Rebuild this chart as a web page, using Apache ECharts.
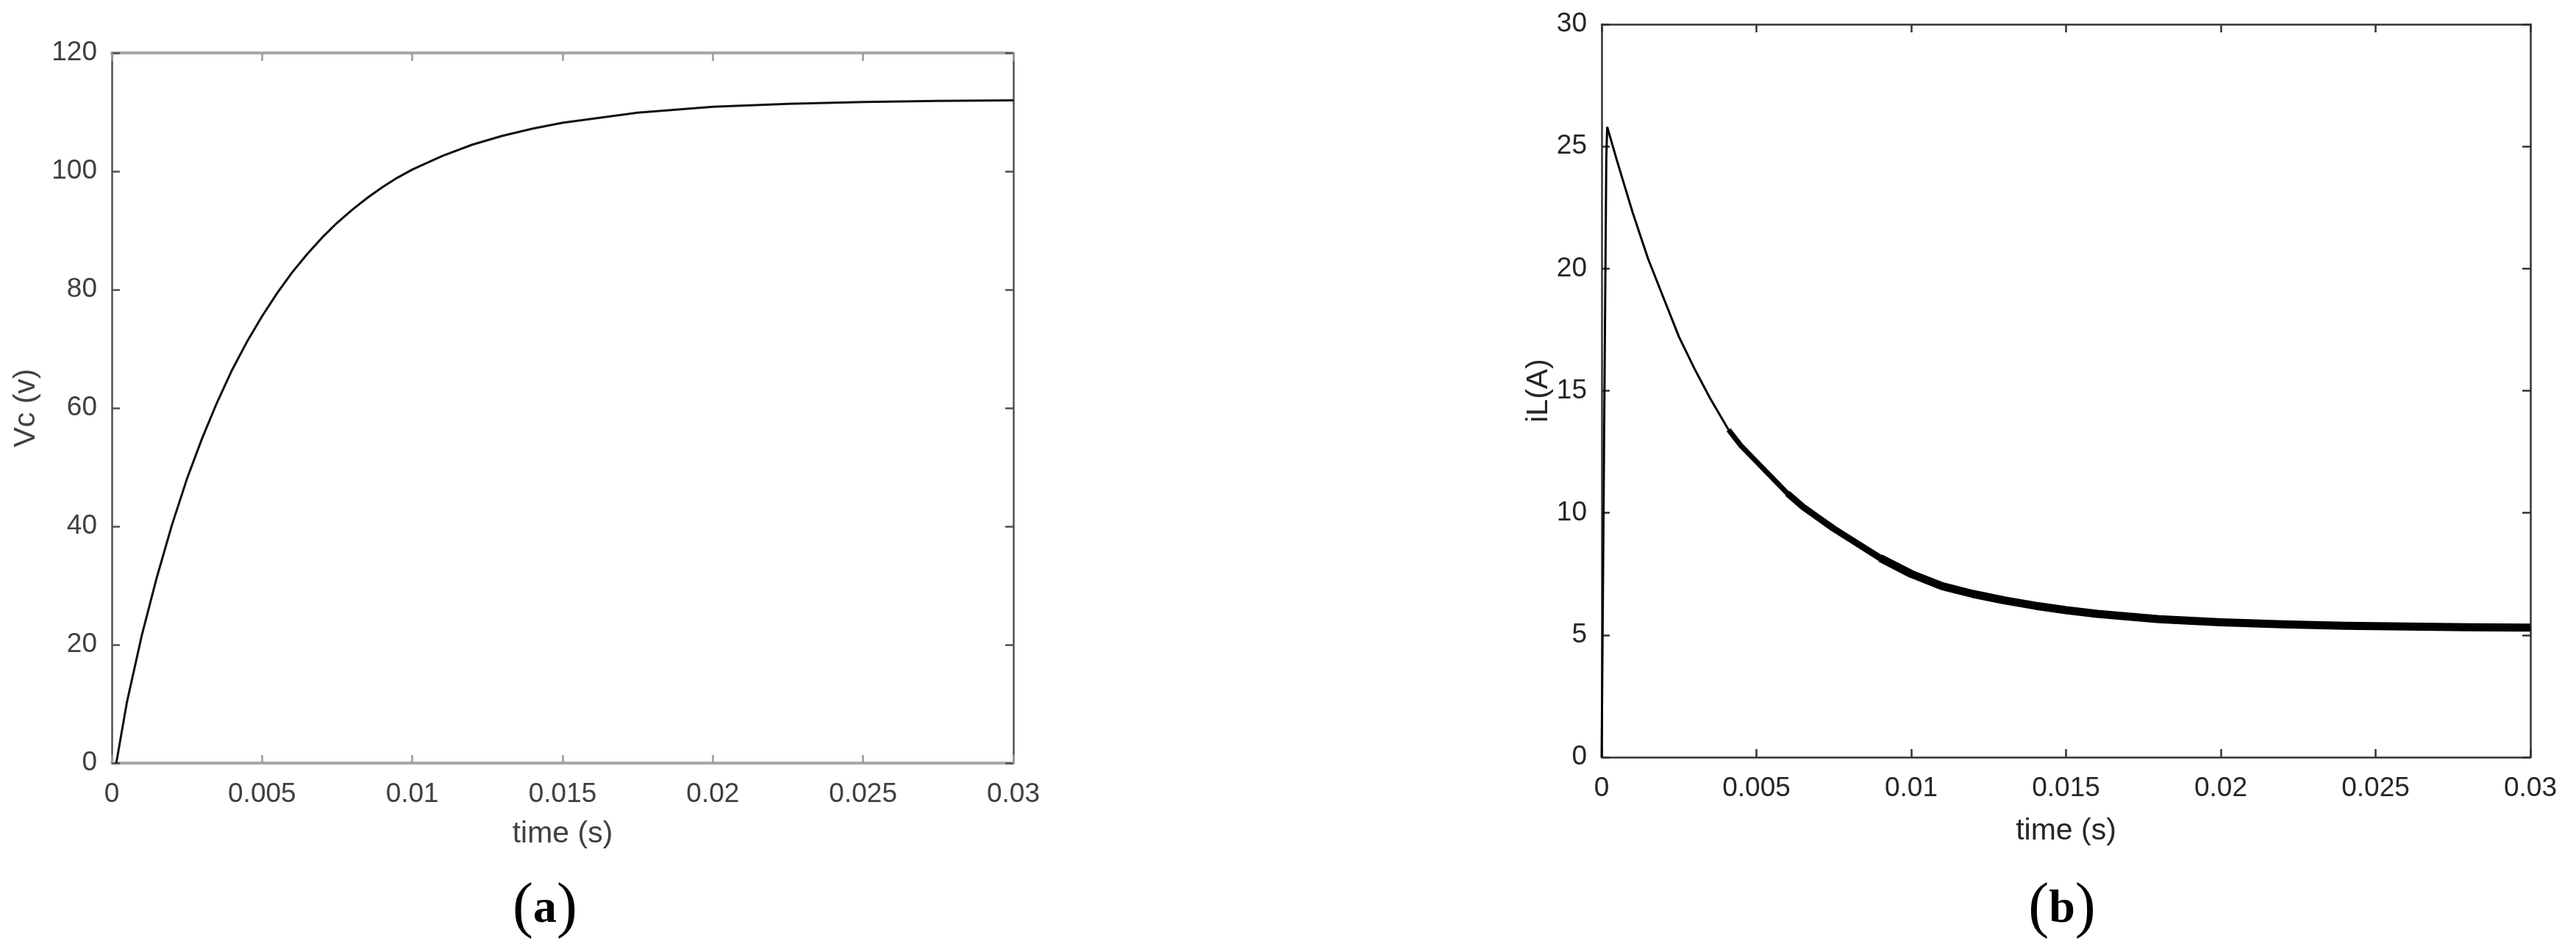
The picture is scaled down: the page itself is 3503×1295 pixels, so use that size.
<!DOCTYPE html>
<html>
<head>
<meta charset="utf-8">
<script src="https://cdn.jsdelivr.net/npm/echarts@6/dist/echarts.min.js"></script>
<style>
  html, body { margin: 0; padding: 0; background: #fff; }
  #chart { width: 3503px; height: 1295px; }
</style>
</head>
<body>
<div id="chart"></div>
<script>
// x tick labels (same for both panels)
const timeTicks = ['0', '0.005', '0.01', '0.015', '0.02', '0.025', '0.03']

// (a) capacitor voltage Vc
const vcTime = [0.00015, 0.0005, 0.001, 0.0015, 0.002, 0.0025, 0.003, 0.0035, 0.004, 0.0045,
  0.005, 0.0055, 0.006, 0.0065, 0.007, 0.0075, 0.008, 0.0085, 0.009, 0.0095,
  0.01, 0.011, 0.012, 0.013, 0.014, 0.015, 0.0175, 0.02, 0.0225, 0.025, 0.0275, 0.03]
const vcValues = [0, 10.2, 21.6, 31.4, 40.2, 48.0, 54.8, 60.9, 66.4, 71.2,
  75.5, 79.4, 82.9, 86.0, 88.8, 91.3, 93.5, 95.5, 97.3, 98.9,
  100.3, 102.6, 104.5, 106.0, 107.2, 108.2, 109.9, 110.9, 111.4, 111.7, 111.9, 112.0]

// (b) inductor current iL: start-up spike
const iLRiseTime = [0, 0.00015, 0.00018]
const iLRise = [0, 24.5, 25.8]

// clean decay before the ripple shows
const iLDecayTime = [0.00018, 0.0005, 0.001, 0.0015, 0.002, 0.0025, 0.003, 0.0035, 0.0041]
const iLDecay = [25.8, 24.4, 22.3, 20.4, 18.8, 17.2, 15.9, 14.7, 13.4]

// ripple band centre: thin, medium, then thick part
const iLBandTime = [0.0041, 0.0045, 0.005, 0.0055, 0.006, 0.0065]
const iLBand = [13.4, 12.75, 12.1, 11.45, 10.8, 10.25]
const iLBandMidTime = [0.006, 0.0065, 0.007, 0.0075, 0.008, 0.009, 0.01]
const iLBandMid = [10.8, 10.25, 9.8, 9.35, 8.95, 8.15, 7.5]
const iLBandWideTime = [0.009, 0.01, 0.011, 0.012, 0.013, 0.014, 0.015,
  0.016, 0.018, 0.02, 0.022, 0.024, 0.026, 0.028, 0.03]
const iLBandWide = [8.15, 7.5, 7.0, 6.68, 6.42, 6.2, 6.02,
  5.87, 5.65, 5.52, 5.44, 5.38, 5.35, 5.32, 5.3]

const zip = (xs, ys) => xs.map((x, i) => [x, ys[i]])

const font = 'Liberation Sans, Arial, sans-serif'

// build one x axis (bottom with labels, or top mirror)
function xAxisFor(gridIndex, top, lineColor, lineWidth, tickColor, labelColor, nameGap) {
  return {
    type: 'value',
    gridIndex,
    position: top ? 'top' : 'bottom',
    min: 0,
    max: 0.03,
    interval: 0.005,
    name: top ? '' : 'time (s)',
    nameLocation: 'middle',
    nameGap,
    nameTextStyle: { fontFamily: font, fontSize: 41, color: labelColor },
    axisLine: { show: true, onZero: false, lineStyle: { color: lineColor, width: lineWidth } },
    axisTick: { show: true, inside: true, length: 11, lineStyle: { color: tickColor, width: 2.5 } },
    axisLabel: {
      show: !top,
      margin: 24,
      fontFamily: font,
      fontSize: 37,
      color: labelColor,
      formatter: (v) => timeTicks[Math.round(v / 0.005)]
    },
    splitLine: { show: false }
  }
}

function yAxisFor(gridIndex, right, max, interval, lineColor, labelColor, name, nameGap) {
  return {
    type: 'value',
    gridIndex,
    position: right ? 'right' : 'left',
    min: 0,
    max,
    interval,
    name: right ? '' : name,
    nameLocation: 'middle',
    nameGap,
    nameTextStyle: { fontFamily: font, fontSize: 41, color: labelColor },
    axisLine: { show: true, onZero: false, lineStyle: { color: lineColor, width: 2.5 } },
    axisTick: { show: true, inside: true, length: 11, lineStyle: { color: lineColor, width: 2.5 } },
    axisLabel: { show: !right, margin: 20, fontFamily: font, fontSize: 37, color: labelColor },
    splitLine: { show: false }
  }
}

function curve(name, xIdx, xs, ys, color, width) {
  return {
    name,
    type: 'line',
    xAxisIndex: xIdx,
    yAxisIndex: xIdx,
    data: zip(xs, ys),
    showSymbol: false,
    lineStyle: { color, width, cap: 'butt', join: 'round' },
    z: 5
  }
}

const chart = echarts.init(document.getElementById('chart'))

chart.setOption({
  animation: false,
  backgroundColor: '#fff',
  grid: [
    { left: 152, top: 72, width: 1226, height: 966 },
    { left: 2178, top: 33, width: 1263, height: 997 }
  ],
  xAxis: [
    xAxisFor(0, false, '#a8a8a8', 4, '#9a9a9a', '#404040', 76),
    xAxisFor(0, true, '#a8a8a8', 4, '#9a9a9a', '#404040', 0),
    xAxisFor(1, false, '#333', 2.5, '#333', '#262626', 80),
    xAxisFor(1, true, '#333', 2.5, '#333', '#262626', 0)
  ],
  yAxis: [
    yAxisFor(0, false, 120, 20, '#505050', '#404040', 'Vc (v)', 96),
    yAxisFor(0, true, 120, 20, '#505050', '#404040', '', 0),
    yAxisFor(1, false, 30, 5, '#333', '#262626', 'iL(A)', 56),
    yAxisFor(1, true, 30, 5, '#333', '#262626', '', 0)
  ],
  series: [
    curve('Vc', 0, vcTime, vcValues, '#111', 3),
    curve('iL rise', 2, iLRiseTime, iLRise, '#000', 3),
    curve('iL decay', 2, iLDecayTime, iLDecay, '#000', 3),
    curve('iL ripple', 2, iLBandTime, iLBand, '#000', 7),
    curve('iL ripple mid', 2, iLBandMidTime, iLBandMid, '#000', 9),
    curve('iL ripple wide', 2, iLBandWideTime, iLBandWide, '#000', 11)
  ],
  graphic: [
    {
      type: 'text',
      x: 741,
      y: 1237,
      style: {
        text: '{p|(}{l|a}{p|)}',
        align: 'center',
        verticalAlign: 'middle',
        rich: {
          p: { fontFamily: 'Liberation Serif', fontSize: 84, fill: '#000', verticalAlign: 'middle' },
          l: { fontFamily: 'Liberation Serif', fontSize: 64, fontWeight: 'bold', fill: '#000', verticalAlign: 'middle' }
        }
      }
    },
    {
      type: 'text',
      x: 2804,
      y: 1237,
      style: {
        text: '{p|(}{l|b}{p|)}',
        align: 'center',
        verticalAlign: 'middle',
        rich: {
          p: { fontFamily: 'Liberation Serif', fontSize: 84, fill: '#000', verticalAlign: 'middle' },
          l: { fontFamily: 'Liberation Serif', fontSize: 64, fontWeight: 'bold', fill: '#000', verticalAlign: 'middle' }
        }
      }
    }
  ]
})
</script>
</body>
</html>
